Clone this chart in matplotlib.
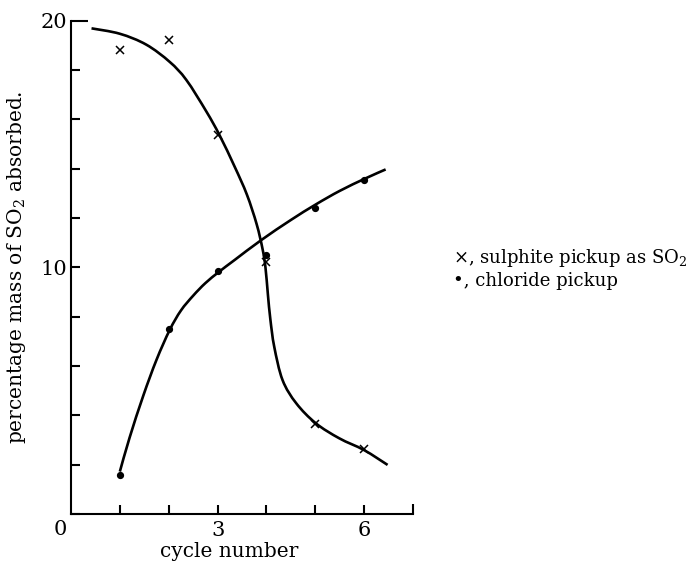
import matplotlib
matplotlib.use("Agg")
import matplotlib.pyplot as plt
from matplotlib.path import Path
from matplotlib.patches import PathPatch

plt.rcParams["font.family"] = ["DejaVu Serif", "DejaVu Sans"]
plt.rcParams["mathtext.fontset"] = "dejavuserif"

# measured points
cycles = [1, 2, 3, 4, 5, 6]
sulphite = [18.8, 19.2, 15.35, 10.2, 3.65, 2.65]
chloride = [1.6, 7.5, 9.85, 10.5, 12.4, 13.55]

# hand-drawn trend curves, traced along their length
sulphite_curve_x = [0.42, 1.0, 1.54, 2.02, 2.36, 2.77, 3.04, 3.35, 3.6, 3.8,
                    3.92, 3.98, 4.03, 4.08, 4.16, 4.33, 4.61, 5.01, 5.49, 6.0, 6.48]
sulphite_curve_y = [19.69, 19.47, 19.03, 18.33, 17.6, 16.32, 15.36, 14.08, 12.95, 11.75,
                    10.75, 10.0, 8.9, 7.9, 6.78, 5.43, 4.49, 3.68, 3.07, 2.59, 1.99]
chloride_curve_x = [1.0, 1.2, 1.48, 1.75, 2.02, 2.25, 2.5, 2.75, 3.03, 3.35,
                    3.89, 4.5, 5.01, 5.5, 6.02, 6.44]
chloride_curve_y = [1.72, 3.1, 4.8, 6.25, 7.46, 8.25, 8.85, 9.36, 9.82, 10.3,
                    11.1, 11.92, 12.55, 13.1, 13.6, 13.97]

legend_lines = ["\u00d7, sulphite pickup as SO$_2$", "\u2022, chloride pickup"]


def smooth_path(xs, ys):
    # Catmull-Rom through the traced points, written as cubic Bezier segments
    pts = list(zip(xs, ys))
    n = len(pts)
    verts = [pts[0]]
    codes = [Path.MOVETO]
    for i in range(n - 1):
        p0 = pts[max(i - 1, 0)]
        p1 = pts[i]
        p2 = pts[i + 1]
        p3 = pts[min(i + 2, n - 1)]
        c1 = (p1[0] + (p2[0] - p0[0]) / 6, p1[1] + (p2[1] - p0[1]) / 6)
        c2 = (p2[0] - (p3[0] - p1[0]) / 6, p2[1] - (p3[1] - p1[1]) / 6)
        verts += [c1, c2, p2]
        codes += [Path.CURVE4] * 3
    return Path(verts, codes)


fig = plt.figure(figsize=(6.93, 5.61), dpi=100)
ax = fig.add_axes([71 / 693, 47 / 561, 342 / 693, 493.3 / 561])

for cx, cy in [(sulphite_curve_x, sulphite_curve_y), (chloride_curve_x, chloride_curve_y)]:
    ax.add_patch(PathPatch(smooth_path(cx, cy), fill=False, edgecolor="black",
                           lw=1.9, capstyle="butt"))
ax.plot(cycles, sulphite, ls="none", marker="x", ms=5.5, mew=1.1, color="black")
ax.plot(cycles, chloride, ls="none", marker="o", ms=4.2, color="black")

ax.set_xlim(0, 7)
ax.set_ylim(0, 20)
for side in ("top", "right"):
    ax.spines[side].set_visible(False)
for side in ("left", "bottom"):
    ax.spines[side].set_linewidth(1.5)

ax.set_xticks([1, 2, 3, 4, 5, 6, 7])
ax.set_xticklabels(["", "", "3", "", "", "6", ""])
ax.set_yticks([0, 2, 4, 6, 8, 10, 12, 14, 16, 18, 20])
ax.set_yticklabels(["", "", "", "", "", "10", "", "", "", "", "20"])
ax.tick_params(direction="in", length=6.5, width=1.5, labelsize=15, pad=3)
ax.tick_params(axis="x", pad=5)
ax.yaxis.get_major_ticks()[-1].tick1line.set_markersize(12)
ax.xaxis.get_major_ticks()[-1].tick1line.set_markersize(7.5)

ax.annotate("0", xy=(0, 0), xytext=(-3, -4), textcoords="offset points",
            ha="right", va="top", fontsize=15)

ax.set_xlabel("cycle number", fontsize=14.5)
ax.xaxis.set_label_coords(0.462, -0.057)
ax.text(-0.158, 0.5, "percentage mass of SO$_2$ absorbed.", transform=ax.transAxes,
        rotation=90, ha="center", va="center", fontsize=14.5)

for i, line in enumerate(legend_lines):
    fig.text(453 / 693, 1 - (258 + 23 * i) / 561, line, ha="left", va="center", fontsize=13)

fig.savefig("out.png", dpi=100)
